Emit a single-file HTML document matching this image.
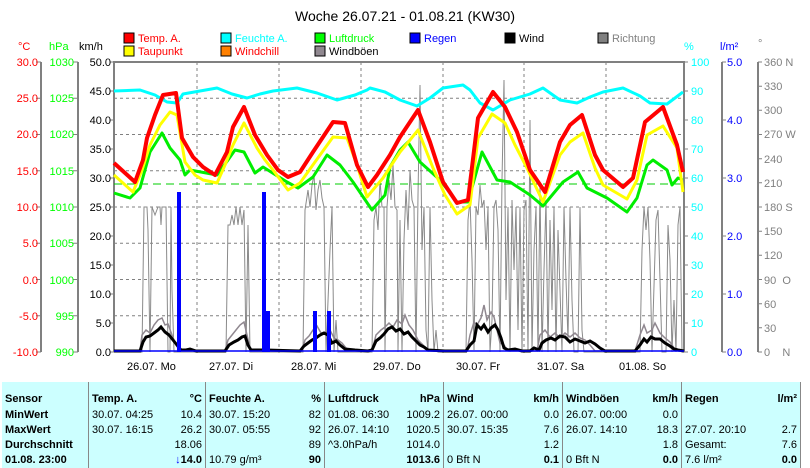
<!DOCTYPE html>
<html><head><meta charset="utf-8"><style>
html,body{margin:0;padding:0;background:#fff;}
body{width:810px;height:465px;overflow:hidden;position:relative;font-family:"Liberation Sans",sans-serif;}
svg{position:absolute;left:0;top:0;}
table{position:absolute;left:2px;top:382px;border-collapse:collapse;background:#ccffff;font-size:11px;font-family:"Liberation Sans",sans-serif;}
td{padding:0 3px;height:15px;line-height:15px;white-space:nowrap;}
tr.h td{height:26px;vertical-align:bottom;line-height:18px;}
</style></head><body>
<svg width="810" height="380" viewBox="0 0 810 380" font-family="Liberation Sans, sans-serif" font-size="11">
<text x="405" y="21" text-anchor="middle" font-size="14">Woche 26.07.21 - 01.08.21 (KW30)</text>
<g stroke="#000" stroke-width="1">
<rect x="124" y="33" width="10" height="10" fill="#f00"/><rect x="124" y="46" width="10" height="10" fill="#ff0"/>
<rect x="221" y="33" width="10" height="10" fill="#0ff"/><rect x="221" y="46" width="10" height="10" fill="#ff8000"/>
<rect x="315" y="33" width="10" height="10" fill="#0f0"/><rect x="315" y="46" width="10" height="10" fill="#908890"/>
<rect x="410" y="33" width="10" height="10" fill="#00f"/>
<rect x="505" y="33" width="10" height="10" fill="#000"/>
<rect x="598" y="33" width="10" height="10" fill="#808080"/>
</g>
<text x="138" y="42" fill="#f00">Temp. A.</text><text x="138" y="55" fill="#f00">Taupunkt</text>
<text x="235" y="42" fill="#0ff">Feuchte A.</text><text x="235" y="55" fill="#f00">Windchill</text>
<text x="329" y="42" fill="#0f0">Luftdruck</text><text x="329" y="55">Windböen</text>
<text x="424" y="42" fill="#00f">Regen</text>
<text x="519" y="42">Wind</text>
<text x="612" y="42" fill="#808080">Richtung</text>
<text x="18" y="50" fill="#f00">°C</text><text x="49" y="50" fill="#0f0">hPa</text><text x="79" y="50">km/h</text>
<text x="684" y="50" fill="#0ff">%</text><text x="720" y="50" fill="#00f">l/m²</text><text x="758" y="47" fill="#808080">°</text>
<g stroke="#808080" stroke-dasharray="3,3" stroke-width="1">
<line x1="114" x2="684" y1="98.25" y2="98.25"/><line x1="114" x2="684" y1="134.5" y2="134.5"/><line x1="114" x2="684" y1="170.75" y2="170.75"/><line x1="114" x2="684" y1="207" y2="207"/><line x1="114" x2="684" y1="243.25" y2="243.25"/><line x1="114" x2="684" y1="279.5" y2="279.5"/><line x1="114" x2="684" y1="315.75" y2="315.75"/>
<line x1="197" x2="197" y1="62" y2="356"/><line x1="279" x2="279" y1="62" y2="356"/><line x1="361" x2="361" y1="62" y2="356"/><line x1="443" x2="443" y1="62" y2="356"/><line x1="524" x2="524" y1="62" y2="356"/><line x1="606" x2="606" y1="62" y2="356"/>
</g>
<g stroke="#808080" stroke-width="2">
<line x1="41" y1="62" x2="41" y2="352"/><line x1="78" y1="62" x2="78" y2="352"/>
<line x1="114" y1="61" x2="114" y2="352"/><line x1="113" y1="62" x2="685" y2="62"/><line x1="684" y1="61" x2="684" y2="352"/>
<line x1="722" y1="62" x2="722" y2="352"/><line x1="758" y1="62" x2="758" y2="352"/>
</g>
<g stroke="#808080" stroke-width="1">
<path d="M36 62h5M36 98.25h5M36 134.5h5M36 170.75h5M36 207h5M36 243.25h5M36 279.5h5M36 315.75h5M36 352h5"/>
<path d="M73 62h5M73 98.25h5M73 134.5h5M73 170.75h5M73 207h5M73 243.25h5M73 279.5h5M73 315.75h5M73 352h5"/>
<path d="M110 62h4M110 91h4M110 120h4M110 149h4M110 178h4M110 207h4M110 236h4M110 265h4M110 294h4M110 323h4M110 352h4"/>
<path d="M684 62h4M684 91h4M684 120h4M684 149h4M684 178h4M684 207h4M684 236h4M684 265h4M684 294h4M684 323h4M684 352h4"/>
<path d="M722 62h4M722 120h4M722 178h4M722 236h4M722 294h4M722 352h4"/>
<path d="M758 62h4M758 86.2h4M758 110.3h4M758 134.5h4M758 158.7h4M758 182.8h4M758 207h4M758 231.2h4M758 255.3h4M758 279.5h4M758 303.7h4M758 327.8h4M758 352h4"/>
</g>
<g fill="#f00" text-anchor="end"><text x="38" y="66">30.0</text><text x="38" y="102">25.0</text><text x="38" y="138">20.0</text><text x="38" y="175">15.0</text><text x="38" y="211">10.0</text><text x="38" y="247">5.0</text><text x="38" y="284">0.0</text><text x="38" y="320">-5.0</text><text x="38" y="356">-10.0</text></g>
<g fill="#0f0" text-anchor="end"><text x="74" y="66">1030</text><text x="74" y="102">1025</text><text x="74" y="138">1020</text><text x="74" y="175">1015</text><text x="74" y="211">1010</text><text x="74" y="247">1005</text><text x="74" y="284">1000</text><text x="74" y="320">995</text><text x="74" y="356">990</text></g>
<g text-anchor="end"><text x="111" y="66">50.0</text><text x="111" y="95">45.0</text><text x="111" y="124">40.0</text><text x="111" y="153">35.0</text><text x="111" y="182">30.0</text><text x="111" y="211">25.0</text><text x="111" y="240">20.0</text><text x="111" y="269">15.0</text><text x="111" y="298">10.0</text><text x="111" y="327">5.0</text><text x="111" y="356">0.0</text></g>
<g fill="#0ff"><text x="691" y="66">100</text><text x="691" y="95">90</text><text x="691" y="124">80</text><text x="691" y="153">70</text><text x="691" y="182">60</text><text x="691" y="211">50</text><text x="691" y="240">40</text><text x="691" y="269">30</text><text x="691" y="298">20</text><text x="691" y="327">10</text><text x="691" y="356">0</text></g>
<g fill="#00f"><text x="727" y="66">5.0</text><text x="727" y="124">4.0</text><text x="727" y="182">3.0</text><text x="727" y="240">2.0</text><text x="727" y="298">1.0</text><text x="727" y="356">0.0</text></g>
<g fill="#808080"><text x="764" y="66">360 N</text><text x="764" y="90">330</text><text x="764" y="114">300</text><text x="764" y="138">270 W</text><text x="764" y="163">240</text><text x="764" y="187">210</text><text x="764" y="211">180 S</text><text x="764" y="235">150</text><text x="764" y="259">120</text><text x="764" y="284">90&#160;&#160;O</text><text x="764" y="308">60</text><text x="764" y="332">30</text><text x="764" y="356">0&#160;&#160;&#160;&#160;N</text></g>
<g><text x="127" y="370">26.07. Mo</text><text x="209" y="370">27.07. Di</text><text x="291" y="370">28.07. Mi</text><text x="373" y="370">29.07. Do</text><text x="456" y="370">30.07. Fr</text><text x="537" y="370">31.07. Sa</text><text x="619" y="370">01.08. So</text></g>
<polyline fill="none" stroke="#8a8a8a" stroke-width="1" points="114,352 142,352 144,207 147,207 148,230 150,352 152,207 155,215 158,207 160,207 161,225 162,207 166,207 168,352 170,352 171,207 172,290 174,352 226,352 228,225 230,225 232,215 234,225 236,207 238,225 240,207 242,225 244,210 246,352 248,225 250,352 303,352 305,210 308,190 310,207 312,185 314,175 316,210 318,190 320,180 322,198 324,207 326,352 330,250 332,207 334,352 336,320 338,352 372,352 374,220 376,207 378,230 380,180 382,207 384,207 385,352 387,207 389,180 391,200 393,165 395,207 397,210 398,352 400,220 402,352 404,240 406,190 408,230 410,170 412,200 414,207 416,352 418,195 420,85 422,250 424,207 426,330 428,352 430,207 432,300 434,352 436,330 438,352 466,352 468,220 470,200 472,260 474,350 476,207 478,215 480,185 482,207 484,200 486,250 488,207 490,352 492,320 494,207 496,200 498,230 500,352 502,180 504,80 506,300 508,207 510,352 512,200 514,270 516,207 518,330 520,207 522,352 524,210 526,200 528,352 530,120 532,352 534,250 536,207 538,352 540,185 542,352 544,270 546,200 548,352 550,220 552,310 554,207 556,352 558,230 560,290 562,352 564,207 566,280 568,340 570,207 572,300 574,352 578,352 580,207 582,330 584,352 600,352 640,352 642,250 644,207 646,230 648,207 650,260 652,352 656,220 658,210 660,280 662,352 666,352 668,225 670,260 672,352 674,300 676,352 678,225 680,207 682,352 684,352"/>
<polyline fill="none" stroke="#908890" stroke-width="1.5" points="114,351 140,351 142,335 146,330 150,333 154,325 158,320 162,318 165,325 168,324 172,335 176,345 180,351 225,351 228,340 232,335 236,330 240,325 244,322 247,335 250,348 253,351 302,351 305,340 309,336 313,330 317,326 321,333 326,332 330,330 334,338 338,340 342,343 346,348 350,351 372,351 376,335 381,330 385,327 389,323 393,327 397,320 402,324 405,315 409,325 413,330 418,340 423,345 428,351 467,351 470,335 474,322 477,325 481,318 484,305 487,320 491,312 494,317 497,330 500,343 504,345 508,351 537,351 540,335 545,330 550,337 555,333 560,338 565,333 570,337 575,333 580,338 585,340 590,345 595,351 635,351 640,335 644,325 647,333 652,330 655,323 660,333 665,338 670,342 674,348 678,351 684,351"/>
<polyline fill="none" stroke="#000" stroke-width="3" points="114,351 140,351 143,342 146,337 150,336 154,333 158,330 161,327 165,332 169,335 173,340 177,345 181,350 186,350 190,349 196,351 225,351 229,345 234,342 238,340 242,337 245,336 248,345 251,350 260,350 266,350 300,351 304,346 308,343 312,340 316,338 320,335 324,333 328,335 332,343 336,341 340,345 345,349 355,350 368,351 372,350 376,341 380,338 384,334 388,329 392,327 396,331 400,329 404,334 408,332 412,337 416,341 420,345 424,347 428,350 445,351 466,351 470,345 474,341 477,325 481,329 484,325 488,332 491,328 495,325 498,330 501,338 504,348 508,350 515,349 522,351 530,351 534,348 539,350 542,343 546,340 551,338 555,340 560,336 565,337 570,342 575,339 580,341 585,343 590,341 595,344 600,348 605,351 635,351 640,345 644,339 647,342 651,337 655,339 660,339 665,343 670,346 674,349 678,350 684,351"/>
<line x1="114" y1="351" x2="684" y2="351" stroke="#00f" stroke-width="1.5"/>
<g fill="#00f"><rect x="177" y="192" width="4" height="160"/><rect x="262" y="192" width="4" height="160"/><rect x="266" y="311" width="4" height="41"/><rect x="313" y="311" width="4" height="41"/><rect x="327" y="311" width="4" height="41"/></g>
<line x1="114" y1="184" x2="684" y2="184" stroke="#0c0" stroke-width="1" stroke-dasharray="8,5"/>
<polyline fill="none" stroke="#0ff" stroke-width="3" stroke-linejoin="round" points="114,91 140,90 155,95 167,102 177,103 183,94 200,91 217,88 232,94 247,98 260,94 273,91 297,88 317,93 337,100 355,95 367,90 370,88 385,92 400,100 417,106 430,98 443,88 463,85 470,90 480,103 493,110 510,100 530,94 543,88 560,100 577,103 590,97 603,92 623,88 640,96 650,103 667,104 683,92"/>
<polyline fill="none" stroke="#0e0" stroke-width="3" stroke-linejoin="round" points="114,193 130,198 140,188 150,152 162,133 170,148 180,160 185,175 190,170 217,175 228,160 235,150 244,152 255,173 263,167 287,182 298,188 313,177 327,155 340,165 353,182 372,210 385,195 390,167 400,150 408,142 420,162 440,180 457,202 468,202 482,152 497,180 510,182 530,195 543,206 563,182 578,172 587,188 607,198 627,212 637,198 647,165 653,160 667,170 672,185 678,178 683,180"/>
<polyline fill="none" stroke="#ff0" stroke-width="3" stroke-linejoin="round" points="114,175 133,192 142,170 150,145 160,125 170,112 177,115 185,162 195,175 203,180 217,183 225,165 233,145 244,123 257,148 265,160 273,170 288,190 300,183 315,162 333,137 347,138 357,165 367,197 383,178 400,152 410,140 418,130 433,168 445,195 457,214 470,205 478,138 492,114 505,123 515,145 527,168 543,202 560,155 570,142 583,133 595,168 603,185 627,199 637,180 647,135 663,126 677,148 683,192"/>
<polyline fill="none" stroke="#f00" stroke-width="4" stroke-linejoin="round" points="114,163 135,182 143,160 147,138 155,115 163,95 176,93 182,138 193,157 203,167 215,175 227,152 233,127 244,107 255,135 267,155 278,170 288,177 300,172 313,152 333,122 345,123 357,165 368,187 377,175 390,155 400,137 418,110 430,142 443,182 457,203 468,200 478,118 493,92 505,107 517,132 530,170 545,192 560,142 570,125 582,115 595,155 603,170 623,187 633,178 645,122 663,107 677,145 683,172"/>
</svg>
<table>
<tr class="h"><td style="width:80px"><b>Sensor</b></td><td style="width:110px;border-left:1px solid #888" colspan="2"><b>Temp. A.</b><b style="float:right">°C</b></td><td style="width:112px;border-left:1px solid #888" colspan="2"><b>Feuchte A.</b><b style="float:right">%</b></td><td style="width:112px;border-left:1px solid #888" colspan="2"><b>Luftdruck</b><b style="float:right">hPa</b></td><td style="width:112px;border-left:1px solid #888" colspan="2"><b>Wind</b><b style="float:right">km/h</b></td><td style="width:112px;border-left:1px solid #888" colspan="2"><b>Windböen</b><b style="float:right">km/h</b></td><td style="width:112px;border-left:1px solid #888;border-right:1px solid #888" colspan="2"><b>Regen</b><b style="float:right">l/m²</b></td></tr>
<tr><td><b>MinWert</b></td><td style="border-left:1px solid #888" colspan="2">30.07. 04:25<span style="float:right">10.4</span></td><td style="border-left:1px solid #888" colspan="2">30.07. 15:20<span style="float:right">82</span></td><td style="border-left:1px solid #888" colspan="2">01.08. 06:30<span style="float:right">1009.2</span></td><td style="border-left:1px solid #888" colspan="2">26.07. 00:00<span style="float:right">0.0</span></td><td style="border-left:1px solid #888" colspan="2">26.07. 00:00<span style="float:right">0.0</span></td><td style="border-left:1px solid #888;border-right:1px solid #888" colspan="2"></td></tr>
<tr><td><b>MaxWert</b></td><td style="border-left:1px solid #888" colspan="2">30.07. 16:15<span style="float:right">26.2</span></td><td style="border-left:1px solid #888" colspan="2">30.07. 05:55<span style="float:right">92</span></td><td style="border-left:1px solid #888" colspan="2">26.07. 14:10<span style="float:right">1020.5</span></td><td style="border-left:1px solid #888" colspan="2">30.07. 15:35<span style="float:right">7.6</span></td><td style="border-left:1px solid #888" colspan="2">26.07. 14:10<span style="float:right">18.3</span></td><td style="border-left:1px solid #888;border-right:1px solid #888" colspan="2">27.07. 20:10<span style="float:right">2.7</span></td></tr>
<tr><td><b>Durchschnitt</b></td><td style="border-left:1px solid #888" colspan="2"><span style="float:right">18.06</span></td><td style="border-left:1px solid #888" colspan="2"><span style="float:right">89</span></td><td style="border-left:1px solid #888" colspan="2">^3.0hPa/h<span style="float:right">1014.0</span></td><td style="border-left:1px solid #888" colspan="2"><span style="float:right">1.2</span></td><td style="border-left:1px solid #888" colspan="2"><span style="float:right">1.8</span></td><td style="border-left:1px solid #888;border-right:1px solid #888" colspan="2">Gesamt:<span style="float:right">7.6</span></td></tr>
<tr><td><b>01.08. 23:00</b></td><td style="border-left:1px solid #888" colspan="2"><b style="float:right"><span style="color:#00f">↓</span>14.0</b></td><td style="border-left:1px solid #888" colspan="2">10.79 g/m³<b style="float:right">90</b></td><td style="border-left:1px solid #888" colspan="2"><b style="float:right">1013.6</b></td><td style="border-left:1px solid #888" colspan="2">0 Bft N<b style="float:right">0.1</b></td><td style="border-left:1px solid #888" colspan="2">0 Bft N<b style="float:right">0.0</b></td><td style="border-left:1px solid #888;border-right:1px solid #888" colspan="2">7.6 l/m²<b style="float:right">0.0</b></td></tr>
</table>
</body></html>
